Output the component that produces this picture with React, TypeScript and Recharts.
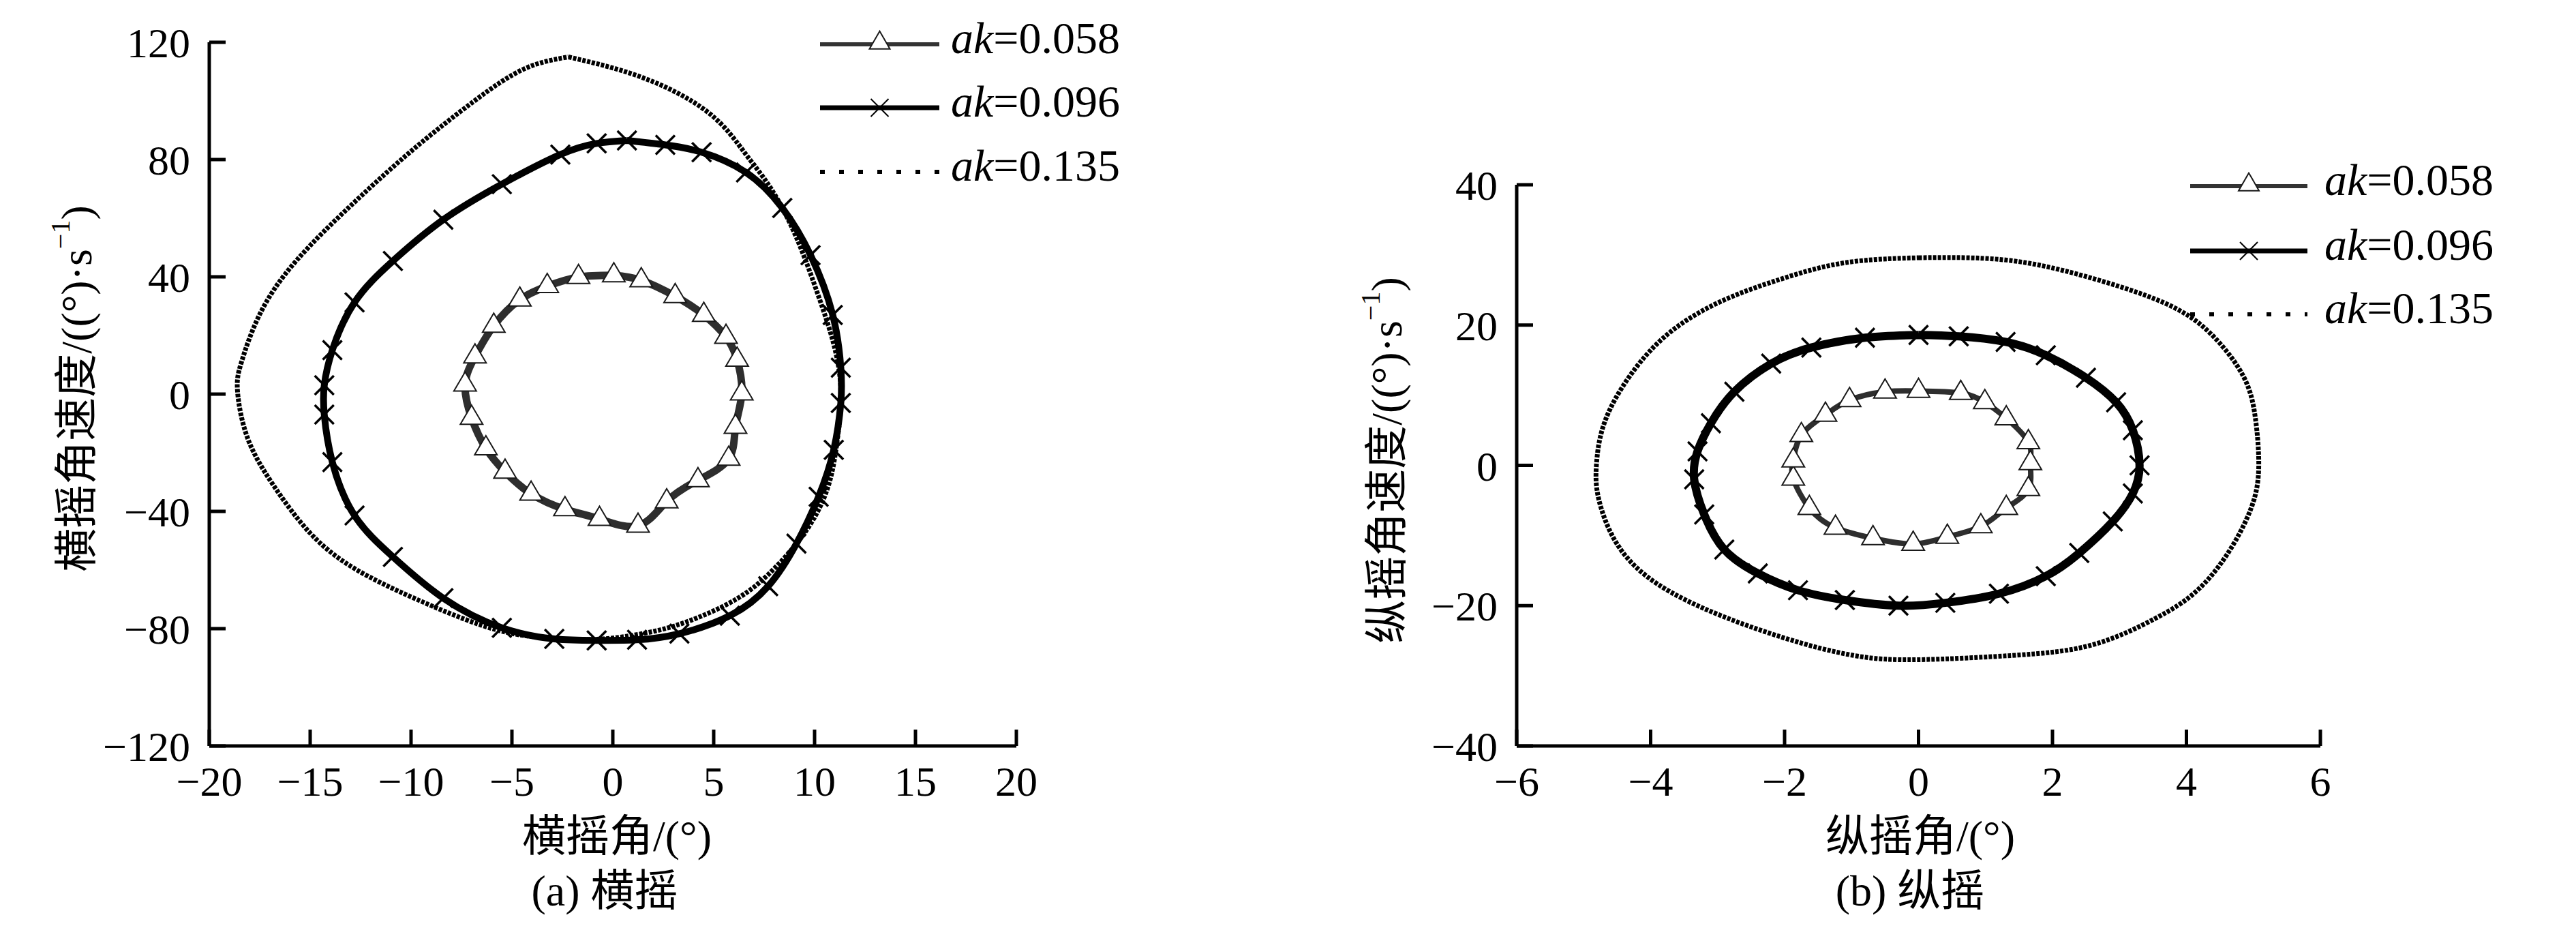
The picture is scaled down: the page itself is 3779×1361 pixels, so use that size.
import React from 'react';
import { LineChart, Line, XAxis, YAxis, Legend } from 'recharts';

const FONT = "'Liberation Serif', 'Times New Roman', 'Noto Sans CJK SC', serif";

type Pt = { x: number; y: number };

// ---------- (a) 横摇 roll phase trajectories ----------
const rollAk058: Pt[] = [
  { x: 0.05, y: 40.5 }, { x: 1.41, y: 38.8 }, { x: 3.09, y: 33.4 }, { x: 4.51, y: 27.0 },
  { x: 5.61, y: 19.5 }, { x: 6.16, y: 11.7 }, { x: 6.39, y: 0.2 }, { x: 6.08, y: -11.2 },
  { x: 5.74, y: -22.1 }, { x: 4.22, y: -29.4 }, { x: 2.67, y: -36.6 }, { x: 1.25, y: -44.9 },
  { x: -0.66, y: -42.6 }, { x: -2.37, y: -39.3 }, { x: -4.05, y: -34 }, { x: -5.34, y: -26.5 },
  { x: -6.29, y: -18.5 }, { x: -7.0, y: -8.1 }, { x: -7.32, y: 3.2 }, { x: -6.83, y: 12.8 },
  { x: -5.9, y: 23.3 }, { x: -4.61, y: 32.2 }, { x: -3.25, y: 36.8 }, { x: -1.7, y: 39.9 },
];
const rollAk096: Pt[] = [
  { x: 0.7, y: 86.5 }, { x: 2.6, y: 85 }, { x: 4.4, y: 82.5 }, { x: 6.6, y: 75.6 },
  { x: 8.4, y: 63.5 }, { x: 9.8, y: 47.4 }, { x: 10.9, y: 27 }, { x: 11.3, y: 9 },
  { x: 11.3, y: -3 }, { x: 10.95, y: -19 }, { x: 10.2, y: -35 }, { x: 9.1, y: -51 },
  { x: 7.7, y: -65.5 }, { x: 5.8, y: -75.6 }, { x: 3.3, y: -81.7 }, { x: 1.2, y: -83.8 },
  { x: -0.8, y: -84 }, { x: -2.9, y: -83.5 }, { x: -5.5, y: -79.7 }, { x: -8.4, y: -69.6 },
  { x: -10.9, y: -55.5 }, { x: -12.8, y: -41.4 }, { x: -13.9, y: -23.2 }, { x: -14.3, y: -7 },
  { x: -14.3, y: 3 }, { x: -13.9, y: 15 }, { x: -12.8, y: 31.3 }, { x: -10.9, y: 45.4 },
  { x: -8.4, y: 59.5 }, { x: -5.5, y: 71.6 }, { x: -2.6, y: 81.7 }, { x: -0.8, y: 85.5 },
];
const rollAk135: Pt[] = [
  { x: -2.2, y: 115 }, { x: 1.46, y: 108 }, { x: 4.74, y: 96 }, { x: 6.57, y: 82 },
  { x: 7.85, y: 70 }, { x: 9.1, y: 53.4 }, { x: 10.2, y: 33.3 }, { x: 10.95, y: 17 },
  { x: 11.3, y: 1 }, { x: 11.1, y: -17 }, { x: 10.6, y: -33 }, { x: 9.5, y: -47.4 },
  { x: 8.0, y: -59.5 }, { x: 6.2, y: -69.6 }, { x: 3.65, y: -77.7 }, { x: 1.46, y: -81.7 },
  { x: -1.1, y: -83.7 }, { x: -4.0, y: -82.7 }, { x: -6.57, y: -78.7 }, { x: -9.85, y: -69.6 },
  { x: -12.8, y: -59.5 }, { x: -15, y: -47.4 }, { x: -16.8, y: -31.3 }, { x: -18.1, y: -15 },
  { x: -18.6, y: 1 }, { x: -18.4, y: 11 }, { x: -17.5, y: 27.2 }, { x: -15.7, y: 45.4 },
  { x: -12.8, y: 65.5 }, { x: -9.85, y: 83.7 }, { x: -6.9, y: 99.8 }, { x: -4.4, y: 110.9 },
];

// ---------- (b) 纵摇 pitch phase trajectories ----------
const pitchAk058: Pt[] = [
  { x: 0, y: 10.6 }, { x: 0.63, y: 10.3 }, { x: 0.99, y: 9.0 }, { x: 1.31, y: 6.7 },
  { x: 1.64, y: 3.3 }, { x: 1.67, y: 0.3 }, { x: 1.64, y: -3.4 }, { x: 1.31, y: -6.1 },
  { x: 0.93, y: -8.7 }, { x: 0.43, y: -10.2 }, { x: -0.08, y: -11.2 }, { x: -0.68, y: -10.4 },
  { x: -1.24, y: -8.9 }, { x: -1.63, y: -6.1 }, { x: -1.87, y: -1.9 }, { x: -1.87, y: 0.7 },
  { x: -1.75, y: 4.3 }, { x: -1.39, y: 7.2 }, { x: -1.03, y: 9.3 }, { x: -0.5, y: 10.5 },
];
const pitchAk096: Pt[] = [
  { x: 0, y: 18.6 }, { x: 0.6, y: 18.4 }, { x: 1.3, y: 17.6 }, { x: 1.9, y: 15.7 },
  { x: 2.5, y: 12.5 }, { x: 2.95, y: 9 }, { x: 3.2, y: 5 }, { x: 3.3, y: 0 },
  { x: 3.2, y: -4 }, { x: 2.9, y: -8 }, { x: 2.4, y: -12.5 }, { x: 1.9, y: -15.8 },
  { x: 1.2, y: -18.3 }, { x: 0.4, y: -19.6 }, { x: -0.3, y: -20 }, { x: -1.1, y: -19.2 },
  { x: -1.8, y: -17.8 }, { x: -2.4, y: -15.4 }, { x: -2.9, y: -12 }, { x: -3.2, y: -7 },
  { x: -3.35, y: -2 }, { x: -3.3, y: 2 }, { x: -3.1, y: 6 }, { x: -2.75, y: 10.5 },
  { x: -2.2, y: 14.5 }, { x: -1.6, y: 16.8 }, { x: -0.8, y: 18.2 },
];
const pitchAk135: Pt[] = [
  { x: 0, y: 29.6 }, { x: 1.28, y: 29.3 }, { x: 2.47, y: 27 }, { x: 3.66, y: 23.2 },
  { x: 4.37, y: 18.7 }, { x: 4.85, y: 12.7 }, { x: 5.03, y: 6.7 }, { x: 5.08, y: 0 },
  { x: 4.97, y: -6 }, { x: 4.6, y: -12.8 }, { x: 4.13, y: -18.1 }, { x: 3.54, y: -21.8 },
  { x: 2.59, y: -25.6 }, { x: 1.4, y: -27.1 }, { x: 0, y: -27.7 }, { x: -0.97, y: -27.1 },
  { x: -2.04, y: -24.5 }, { x: -3.23, y: -20.3 }, { x: -4.06, y: -15.8 }, { x: -4.54, y: -10.6 },
  { x: -4.78, y: -4.6 }, { x: -4.81, y: 0 }, { x: -4.72, y: 5.2 }, { x: -4.42, y: 11.2 },
  { x: -3.83, y: 18 }, { x: -2.99, y: 23.2 }, { x: -2.04, y: 26.6 }, { x: -1.09, y: 28.9 },
];

// ---------- ticks & labels ----------
const rollXTicks = [-20, -15, -10, -5, 0, 5, 10, 15, 20];
const rollYTicks = [-120, -80, -40, 0, 40, 80, 120];
const pitchXTicks = [-6, -4, -2, 0, 2, 4, 6];
const pitchYTicks = [-40, -20, 0, 20, 40];
const akValues = ['0.058', '0.096', '0.135'];
const markerKinds = ['triangle', 'cross', 'none'];

const closeLoop = (a: Pt[]) => [...a, a[0]];
const fmt = (v: number) => (v < 0 ? '\u2212' + Math.abs(v) : String(v));

const triPath = (cx: number, cy: number, w: number, h: number) =>
  `M${cx},${cy - (h * 2) / 3} L${cx + w / 2},${cy + h / 3} L${cx - w / 2},${cy + h / 3} Z`;

const makeTriangleDot = (n: number) => (p: any) => {
  const { cx, cy, index } = p;
  if (cx == null || cy == null || index >= n) return <g key={`t${index}`} />;
  return <path key={`t${index}`} d={triPath(cx, cy, 33, 28)} fill="#fff" stroke="#1a1a1a" strokeWidth={2} />;
};
const CR = 14;
const makeCrossDot = (n: number) => (p: any) => {
  const { cx, cy, index } = p;
  if (cx == null || cy == null || index >= n) return <g key={`c${index}`} />;
  return (
    <g key={`c${index}`} stroke="#000" strokeWidth={3.5}>
      <line x1={cx - CR} y1={cy - CR} x2={cx + CR} y2={cy + CR} />
      <line x1={cx - CR} y1={cy + CR} x2={cx + CR} y2={cy - CR} />
    </g>
  );
};

const renderLegend = (lineX1: number, lineX2: number, textX: number, rows: number[]) => () => {
  const mid = (lineX1 + lineX2) / 2;
  return (
    <svg width={480} height={300} style={{ display: 'block', overflow: 'visible' }}>
      {akValues.map((v, i) => {
        const y = rows[i];
        const kind = markerKinds[i];
        return (
          <g key={v}>
            {kind === 'triangle' && (
              <line x1={lineX1} x2={lineX2} y1={y} y2={y} stroke="#333" strokeWidth={6} />
            )}
            {kind === 'cross' && (
              <line x1={lineX1} x2={lineX2} y1={y} y2={y} stroke="#000" strokeWidth={7} />
            )}
            {kind === 'none' && (
              <line x1={lineX1} x2={lineX2} y1={y} y2={y} stroke="#000" strokeWidth={6} strokeDasharray="7 21" />
            )}
            {kind === 'triangle' && <path d={triPath(mid, y - 2, 30, 26)} fill="#fff" stroke="#1a1a1a" strokeWidth={2} />}
            {kind === 'cross' && (
              <g stroke="#000" strokeWidth={2}>
                <line x1={mid - 13} y1={y - 13} x2={mid + 13} y2={y + 13} />
                <line x1={mid - 13} y1={y + 13} x2={mid + 13} y2={y - 13} />
              </g>
            )}
            <text x={textX} y={y + 13} fontSize={66} fontFamily={FONT} fill="#000">
              <tspan fontStyle="italic">ak</tspan>={v}
            </text>
          </g>
        );
      })}
    </svg>
  );
};

type ChartProps = {
  left: number;
  width: number;
  top: number;
  yAxisWidth: number;
  rightMargin: number;
  xDomain: [number, number];
  yDomain: [number, number];
  xTicks: number[];
  yTicks: number[];
  s058: Pt[];
  s096: Pt[];
  s135: Pt[];
  w058: number;
  w096: number;
  yTitle: string;
  yTitlePos: [number, number];
  xTitle: string;
  xTitlePos: [number, number];
  caption: string;
  captionPos: [number, number];
  legendPos: [number, number];
  legendGeom: [number, number, number, number[]];
};

const PhaseChart = (c: ChartProps) => {
  const H = 1361;
  const yTitleLabel = () => (
    <text
      x={c.yTitlePos[0]}
      y={c.yTitlePos[1]}
      transform={`rotate(-90 ${c.yTitlePos[0]} ${c.yTitlePos[1]})`}
      textAnchor="middle"
      dominantBaseline="central"
      fontSize={64}
      fontFamily={FONT}
      fill="#000"
    >
      {c.yTitle}
      <tspan fontSize={40} dy={-24}>{'\u22121'}</tspan>
      <tspan dy={24}>)</tspan>
    </text>
  );
  const xTitleLabel = () => (
    <g>
      <text x={c.xTitlePos[0]} y={c.xTitlePos[1]} textAnchor="middle" fontSize={64} fontFamily={FONT} fill="#000">
        {c.xTitle}
      </text>
      <text x={c.captionPos[0]} y={c.captionPos[1]} textAnchor="middle" fontSize={64} fontFamily={FONT} fill="#000">
        {c.caption}
      </text>
    </g>
  );
  const [lx1, lx2, tx, rows] = c.legendGeom;
  return (
    <div style={{ position: 'absolute', left: c.left, top: 0, width: c.width, height: H }}>
      <LineChart
        width={c.width}
        height={H}
        margin={{ top: c.top, right: c.rightMargin, bottom: 147, left: 0 }}
      >
        <XAxis
          type="number"
          dataKey="x"
          domain={c.xDomain}
          ticks={c.xTicks}
          allowDataOverflow
          height={120}
          tickFormatter={fmt}
          tickSize={-24}
          tickMargin={53}
          axisLine={{ stroke: '#000', strokeWidth: 5 }}
          tickLine={{ stroke: '#000', strokeWidth: 5 }}
          tick={{ fill: '#000', fontSize: 62, fontFamily: FONT }}
          label={xTitleLabel}
        />
        <YAxis
          type="number"
          dataKey="y"
          domain={c.yDomain}
          ticks={c.yTicks}
          allowDataOverflow
          width={c.yAxisWidth}
          tickFormatter={fmt}
          tickSize={-24}
          tickMargin={52}
          axisLine={{ stroke: '#000', strokeWidth: 5 }}
          tickLine={{ stroke: '#000', strokeWidth: 5 }}
          tick={{ fill: '#000', fontSize: 62, fontFamily: FONT }}
          label={yTitleLabel}
        />
        <Legend
          layout="vertical"
          align="center"
          verticalAlign="middle"
          wrapperStyle={{ left: c.legendPos[0], top: c.legendPos[1], width: 480, height: 300 }}
          content={renderLegend(lx1, lx2, tx, rows)}
        />
        <Line
          name={`ak=${akValues[2]}`}
          data={closeLoop(c.s135)}
          dataKey="y"
          type="natural"
          stroke="#000"
          strokeWidth={7}
          strokeDasharray="5 2"
          dot={false}
          activeDot={false}
          isAnimationActive={false}
        />
        <Line
          name={`ak=${akValues[1]}`}
          data={closeLoop(c.s096)}
          dataKey="y"
          type="natural"
          stroke="#000"
          strokeWidth={c.w096}
          dot={makeCrossDot(c.s096.length)}
          activeDot={false}
          isAnimationActive={false}
        />
        <Line
          name={`ak=${akValues[0]}`}
          data={closeLoop(c.s058)}
          dataKey="y"
          type="natural"
          stroke="#2e2e2e"
          strokeWidth={c.w058}
          dot={makeTriangleDot(c.s058.length)}
          activeDot={false}
          isAnimationActive={false}
        />
      </LineChart>
    </div>
  );
};

export default function App() {
  return (
    <div style={{ position: 'absolute', left: 0, top: 0, width: 3779, height: 1361, background: '#fff', overflow: 'hidden' }}>
      <PhaseChart
        left={0}
        width={1700}
        top={62}
        yAxisWidth={307}
        rightMargin={209}
        xDomain={[-20, 20]}
        yDomain={[-120, 120]}
        xTicks={rollXTicks}
        yTicks={rollYTicks}
        s058={rollAk058}
        s096={rollAk096}
        s135={rollAk135}
        w058={11}
        w096={10}
        yTitle={'横摇角速度/((°)·s'}
        yTitlePos={[112, 570]}
        xTitle={'横摇角/(°)'}
        xTitlePos={[905, 1248]}
        caption={'(a) 横摇'}
        captionPos={[887, 1328]}
        legendPos={[1190, 20]}
        legendGeom={[13, 188, 205, [45, 138, 232]]}
      />
      <PhaseChart
        left={1900}
        width={1879}
        top={271}
        yAxisWidth={325}
        rightMargin={375}
        xDomain={[-6, 6]}
        yDomain={[-40, 40]}
        xTicks={pitchXTicks}
        yTicks={pitchYTicks}
        s058={pitchAk058}
        s096={pitchAk096}
        s135={pitchAk135}
        w058={8}
        w096={12}
        yTitle={'纵摇角速度/((°)·s'}
        yTitlePos={[134, 675]}
        xTitle={'纵摇角/(°)'}
        xTitlePos={[917, 1248]}
        caption={'(b) 纵摇'}
        captionPos={[902, 1328]}
        legendPos={[1300, 220]}
        legendGeom={[13, 185, 210, [53, 148, 241]]}
      />
    </div>
  );
}
